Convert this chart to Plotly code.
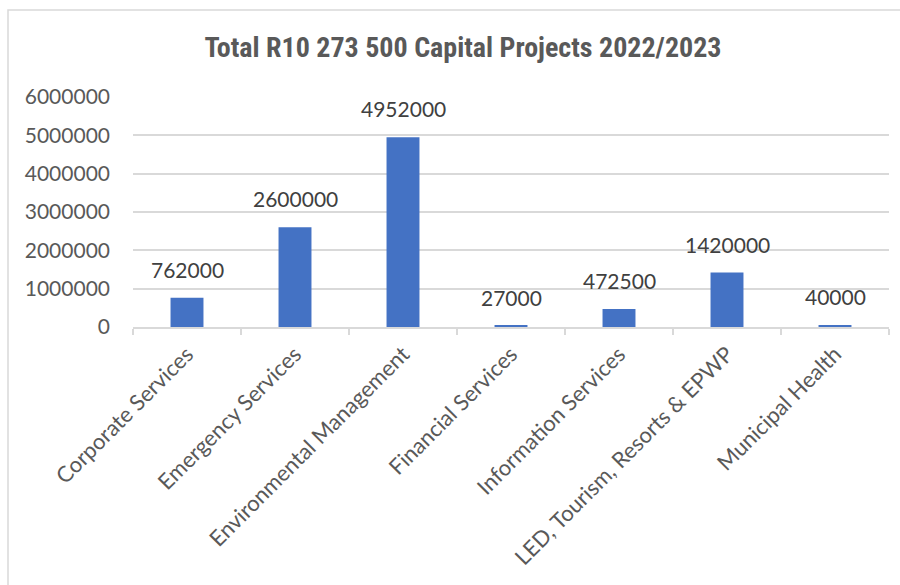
import plotly.graph_objects as go

categories = [
    "Corporate Services",
    "Emergency Services",
    "Environmental Management",
    "Financial Services",
    "Information Services",
    "LED, Tourism, Resorts & EPWP",
    "Municipal Health",
]
values = [762000, 2600000, 4952000, 27000, 472500, 1420000, 40000]
y_ticks = [0, 1000000, 2000000, 3000000, 4000000, 5000000, 6000000]
title_text = "Total R10 273 500 Capital Projects 2022/2023"

W, H = 900, 585
L, R, T, B = 133, 11, 97, 258
pw = W - L - R
ph = H - T - B

def px_x(p):
    return (p - L) / pw

def px_y(p):
    return (H - B - p) / ph

FONT = "Lato, Carlito, sans-serif"

fig = go.Figure()
fig.add_trace(go.Bar(
    x=categories,
    y=values,
    marker=dict(color="#4472C4", line=dict(width=0)),
    hoverinfo="x+y",
))

annotations = [
    dict(
        x=c, y=v, xref="x", yref="y",
        text=str(v), showarrow=False,
        yanchor="bottom", yshift=14,
        font=dict(family=FONT, size=21, color="#404040"),
    )
    for c, v in zip(categories, values)
]

fig.update_layout(
    width=W,
    height=H,
    margin=dict(l=L, r=R, t=T, b=B, autoexpand=False),
    paper_bgcolor="white",
    plot_bgcolor="white",
    showlegend=False,
    bargap=0.695,
    annotations=annotations,
    title=dict(
        text="<b>" + title_text + "</b>",
        x=463 / W,
        xref="container",
        xanchor="center",
        y=1 - 47 / H,
        yanchor="middle",
        font=dict(family="Liberation Sans Narrow, Arial Narrow, Roboto Condensed, Liberation Sans, sans-serif",
                  size=28, color="#595959"),
    ),
    xaxis=dict(
        type="category",
        tickangle=-45,
        tickfont=dict(family=FONT, size=22, color="#595959"),
        showline=True,
        linecolor="#D9D9D9",
        linewidth=1.5,
        ticks="outside",
        tickson="boundaries",
        ticklen=6,
        tickcolor="#D9D9D9",
        tickwidth=1.5,
        showgrid=False,
        ticklabelstandoff=4,
    ),
    yaxis=dict(
        range=[0, 6000000],
        tickvals=y_ticks,
        ticktext=[str(v) for v in y_ticks],
        tickfont=dict(family=FONT, size=21, color="#595959"),
        showgrid=True,
        gridcolor="#D9D9D9",
        gridwidth=1.5,
        zeroline=False,
        showline=False,
        ticks="",
        ticklabelstandoff=22,
    ),
    shapes=[dict(
        type="rect",
        xref="paper", yref="paper",
        x0=px_x(8), x1=px_x(910),
        y0=px_y(600), y1=px_y(10),
        line=dict(color="#D9D9D9", width=1.5),
        fillcolor="rgba(0,0,0,0)",
        layer="below",
    )],
)

fig.write_html("out.html")
